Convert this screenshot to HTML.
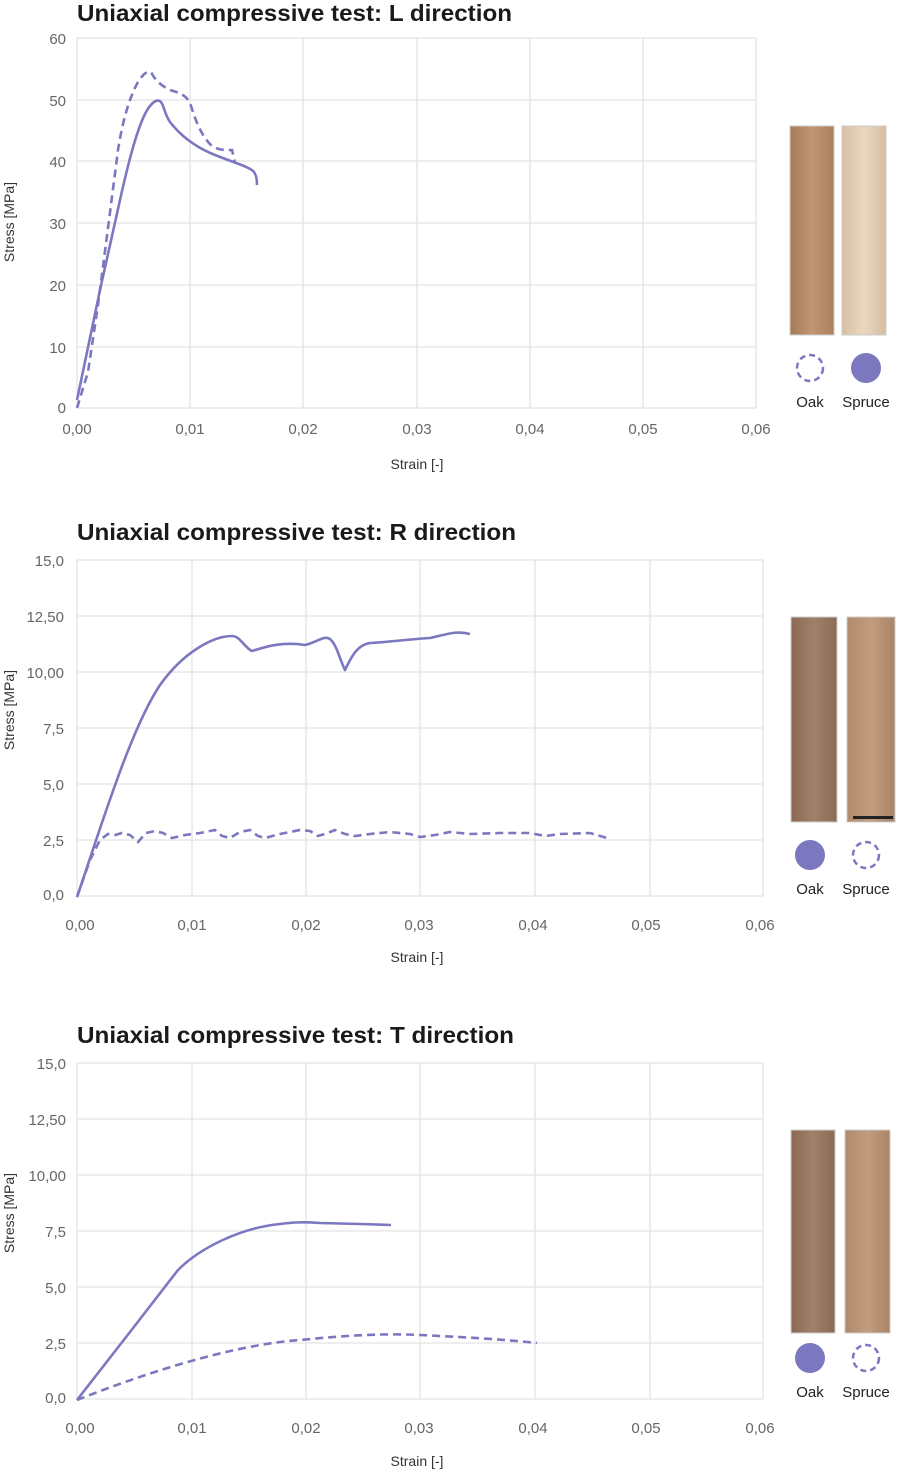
<!DOCTYPE html>
<html><head><meta charset="utf-8"><style>
body{margin:0;background:#fff}
svg{display:block}
text{font-family:"Liberation Sans",sans-serif}
.t{font-weight:bold;font-size:23px;fill:#1a1a1a}
.tk{font-size:15px;fill:#666}
.ax{font-size:14px;fill:#333}
.g{stroke:#e3e3e3;stroke-width:1.3;fill:none}
.s{stroke:#7b78c0;stroke-width:2.6;fill:none;stroke-linejoin:round}
.d{stroke:#7b78c0;stroke-width:2.6;fill:none;stroke-dasharray:8,5}
.lg{font-size:15px;fill:#222}
</style></head><body>
<svg width="900" height="1473" viewBox="0 0 900 1473">
<defs>
<linearGradient id="oak" x1="0" x2="1"><stop offset="0" stop-color="#a57a58"/><stop offset=".5" stop-color="#c09676"/><stop offset="1" stop-color="#a97f5d"/></linearGradient>
<linearGradient id="spr" x1="0" x2="1"><stop offset="0" stop-color="#d9bfa2"/><stop offset=".5" stop-color="#ead7c1"/><stop offset="1" stop-color="#d6bc9f"/></linearGradient>
<linearGradient id="oak2" x1="0" x2="1"><stop offset="0" stop-color="#8a6a52"/><stop offset=".5" stop-color="#a0806a"/><stop offset="1" stop-color="#8b6b54"/></linearGradient>
<linearGradient id="spr2" x1="0" x2="1"><stop offset="0" stop-color="#b08a6c"/><stop offset=".5" stop-color="#c29c7e"/><stop offset="1" stop-color="#a98466"/></linearGradient>
</defs>

<!-- Chart 1 -->
<text x="77" y="21" class="t" textLength="435" lengthAdjust="spacingAndGlyphs">Uniaxial compressive test: L direction</text>
<g class="g">
<path d="M77 38H756M77 100H756M77 161H756M77 223H756M77 285H756M77 347H756M77 408H756"/>
<path d="M77 38V408M190 38V408M303 38V408M417 38V408M530 38V408M643 38V408M756 38V408"/>
</g>
<g class="tk" text-anchor="end">
<text x="66" y="44">60</text><text x="66" y="106">50</text><text x="66" y="167">40</text><text x="66" y="229">30</text><text x="66" y="291">20</text><text x="66" y="353">10</text><text x="66" y="413">0</text>
</g>
<g class="tk" text-anchor="middle">
<text x="77" y="434">0,00</text><text x="190" y="434">0,01</text><text x="303" y="434">0,02</text><text x="417" y="434">0,03</text><text x="530" y="434">0,04</text><text x="643" y="434">0,05</text><text x="756" y="434">0,06</text>
</g>
<text x="417" y="469" class="ax" text-anchor="middle">Strain [-]</text>
<text transform="translate(14,222) rotate(-90)" class="ax" text-anchor="middle">Stress [MPa]</text>
<path class="s" d="M77 400 L100 290 L120 200 C130 155 140 118 150 106 C154 101 158 99 161 102 C164 106 165 115 170 122 C180 135 195 147 215 155 C235 163 250 167 254 172 C257 176 257 182 257 185"/>
<path class="d" d="M77 408 L88 372 L98 305 L108 228 L118 150 C122 125 128 100 138 82 C143 74 147 71 151 72 C155 80 160 85 170 90 C180 93 186 95 190 103 C195 118 200 135 212 146 C220 151 228 150 232 150 L235 163"/>
<rect x="790" y="126" width="44" height="209" fill="url(#oak)" stroke="#ccc"/>
<rect x="842" y="126" width="44" height="209" fill="url(#spr)" stroke="#ccc"/>
<circle cx="810" cy="368" r="13" fill="none" stroke="#7b78c0" stroke-width="2.5" stroke-dasharray="6,4"/>
<circle cx="866" cy="368" r="15" fill="#7b78c0"/>
<text x="810" y="407" class="lg" text-anchor="middle">Oak</text>
<text x="866" y="407" class="lg" text-anchor="middle">Spruce</text>

<!-- Chart 2 -->
<text x="77" y="540" class="t" textLength="439" lengthAdjust="spacingAndGlyphs">Uniaxial compressive test: R direction</text>
<g class="g">
<path d="M77 560H763M77 616H763M77 672H763M77 728H763M77 784H763M77 840H763M77 896H763"/>
<path d="M77 560V896M192 560V896M306 560V896M420 560V896M535 560V896M650 560V896M763 560V896"/>
</g>
<g class="tk" text-anchor="end">
<text x="64" y="566">15,0</text><text x="64" y="622">12,50</text><text x="64" y="678">10,00</text><text x="64" y="734">7,5</text><text x="64" y="790">5,0</text><text x="64" y="846">2,5</text><text x="64" y="900">0,0</text>
</g>
<g class="tk" text-anchor="middle">
<text x="80" y="930">0,00</text><text x="192" y="930">0,01</text><text x="306" y="930">0,02</text><text x="419" y="930">0,03</text><text x="533" y="930">0,04</text><text x="646" y="930">0,05</text><text x="760" y="930">0,06</text>
</g>
<text x="417" y="962" class="ax" text-anchor="middle">Strain [-]</text>
<text transform="translate(14,710) rotate(-90)" class="ax" text-anchor="middle">Stress [MPa]</text>
<path class="s" d="M77 897 C100 830 130 730 160 685 C185 650 215 636 232 636 C240 636 245 648 252 651 C262 648 280 641 305 645 C318 642 325 634 331 640 C337 646 340 660 345 670 C350 660 356 645 370 643 C390 642 400 640 430 638 C445 635 455 630 470 634"/>
<path class="d" d="M77 897 L90 860 L100 840 L108 834 L115 835 L122 833 L130 835 L138 842 L146 833 L155 831 L163 833 L172 838 L185 835 L200 833 L215 830 L222 836 L230 838 L240 832 L250 830 L258 836 L265 838 L280 834 L300 830 L310 831 L318 836 L325 834 L335 830 L345 834 L355 836 L370 834 L390 832 L410 834 L420 837 L435 835 L450 832 L470 834 L500 833 L530 833 L545 836 L560 834 L590 833 L607 838"/>
<rect x="791" y="617" width="46" height="205" fill="url(#oak2)" stroke="#ccc"/>
<rect x="847" y="617" width="48" height="205" fill="url(#spr2)" stroke="#ccc"/>
<rect x="853" y="816" width="40" height="3" fill="#222"/>
<circle cx="810" cy="855" r="15" fill="#7b78c0"/>
<circle cx="866" cy="855" r="13" fill="none" stroke="#7b78c0" stroke-width="2.5" stroke-dasharray="6,4"/>
<text x="810" y="894" class="lg" text-anchor="middle">Oak</text>
<text x="866" y="894" class="lg" text-anchor="middle">Spruce</text>

<!-- Chart 3 -->
<text x="77" y="1043" class="t" textLength="437" lengthAdjust="spacingAndGlyphs">Uniaxial compressive test: T direction</text>
<g class="g">
<path d="M77 1063H763M77 1119H763M77 1175H763M77 1231H763M77 1287H763M77 1343H763M77 1399H763"/>
<path d="M77 1063V1399M192 1063V1399M306 1063V1399M420 1063V1399M535 1063V1399M650 1063V1399M763 1063V1399"/>
</g>
<g class="tk" text-anchor="end">
<text x="66" y="1069">15,0</text><text x="66" y="1125">12,50</text><text x="66" y="1181">10,00</text><text x="66" y="1237">7,5</text><text x="66" y="1293">5,0</text><text x="66" y="1349">2,5</text><text x="66" y="1403">0,0</text>
</g>
<g class="tk" text-anchor="middle">
<text x="80" y="1433">0,00</text><text x="192" y="1433">0,01</text><text x="306" y="1433">0,02</text><text x="419" y="1433">0,03</text><text x="533" y="1433">0,04</text><text x="646" y="1433">0,05</text><text x="760" y="1433">0,06</text>
</g>
<text x="417" y="1466" class="ax" text-anchor="middle">Strain [-]</text>
<text transform="translate(14,1213) rotate(-90)" class="ax" text-anchor="middle">Stress [MPa]</text>
<path class="s" d="M77 1400 L130 1332 L178 1270 C200 1248 240 1228 280 1224 C295 1222 305 1222 320 1223 L360 1224 L391 1225"/>
<path class="d" d="M77 1400 C140 1375 230 1345 300 1340 C340 1336 380 1333 420 1335 C460 1337 500 1339 537 1343"/>
<rect x="791" y="1130" width="44" height="203" fill="url(#oak2)" stroke="#ccc"/>
<rect x="845" y="1130" width="45" height="203" fill="url(#spr2)" stroke="#ccc"/>
<circle cx="810" cy="1358" r="15" fill="#7b78c0"/>
<circle cx="866" cy="1358" r="13" fill="none" stroke="#7b78c0" stroke-width="2.5" stroke-dasharray="6,4"/>
<text x="810" y="1397" class="lg" text-anchor="middle">Oak</text>
<text x="866" y="1397" class="lg" text-anchor="middle">Spruce</text>
</svg>
</body></html>
